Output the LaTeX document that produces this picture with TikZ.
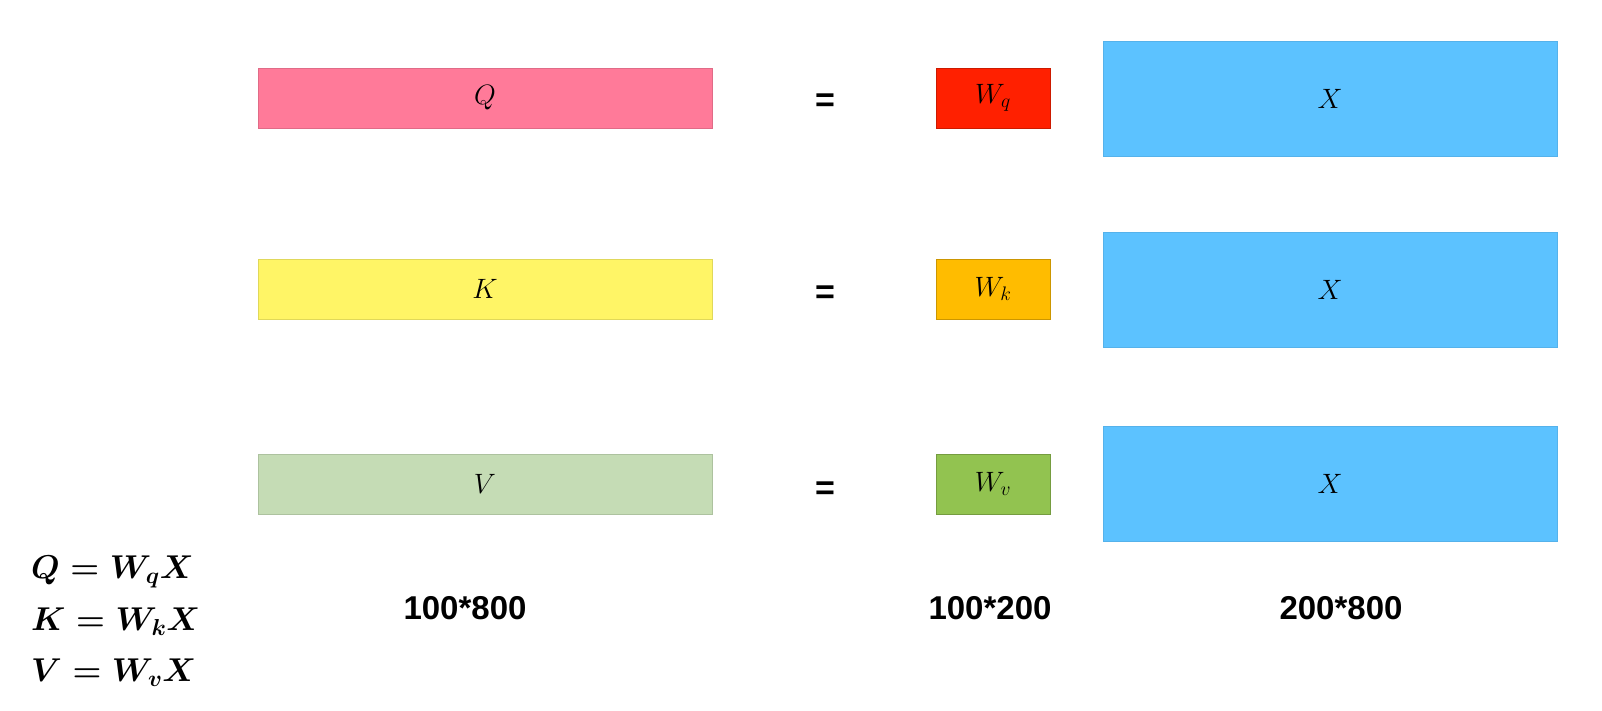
\RequirePackage{fix-cm}
\documentclass[tikz,border=0pt]{standalone}
\usepackage{amsmath}
\usepackage{bm}
\usepackage{fontspec}
\setsansfont{Liberation Sans}
\usepackage{tikz}

\definecolor{qpink}{RGB}{255,122,153}
\definecolor{kyellow}{RGB}{255,245,102}
\definecolor{vgreen}{RGB}{197,220,181}
\definecolor{wqred}{RGB}{255,32,0}
\definecolor{wkorange}{RGB}{255,188,0}
\definecolor{wvgreen}{RGB}{146,195,80}
\definecolor{xblue}{RGB}{92,194,255}

\tikzset{
  mat/.style={minimum width=454pt, minimum height=60pt, inner sep=0pt,
    font=\fontsize{28}{32}\selectfont},
  wmat/.style={minimum width=114pt, minimum height=60pt, inner sep=0pt,
    font=\fontsize{28}{32}\selectfont},
  xmat/.style={minimum width=454pt, minimum height=115pt, inner sep=0pt,
    fill=xblue, draw=xblue!92!black, line width=0.6pt,
    font=\fontsize{28}{32}\selectfont},
  dimlabel/.style={font=\sffamily\bfseries\fontsize{33}{36}\selectfont},
  eqsign/.style={font=\sffamily\bfseries\fontsize{34}{36}\selectfont},
  formula/.style={anchor=west, inner sep=0pt,
    font=\fontsize{33}{38}\selectfont\boldmath}
}

\begin{document}
\begin{tikzpicture}[x=1pt, y=-1pt]
    \useasboundingbox (0,0) rectangle (1602,711);

    \foreach \n/\y/\c/\wc/\s/\xy/\ey in {q/98/qpink/wqred/Q/98.5/103, k/289/kyellow/wkorange/K/289.5/295, v/484/vgreen/wvgreen/V/484/491} {
      \node[mat, fill=\c, draw=\c!88!black, line width=0.6pt] (\n) at (485,\y) {$\s$};
      \node[eqsign] (eq\n) at (825,\ey) {=};
      \node[wmat, fill=\wc, draw=\wc!80!black, line width=0.8pt] (w\n) at (993,\y) {$W_\n$};
      \node[xmat] (x\n) at (1330,\xy) {$X$};
    }

    \node[dimlabel] (dimq) at (465,608) {100*800};
    \node[dimlabel] (dimw) at (990,608) {100*200};
    \node[dimlabel] (dimx) at (1341,608) {200*800};

    \node[formula] (fq) at (31,572) {$\bm{Q = W_{q}X}$};
    \node[formula] (fk) at (31,622) {$\bm{K = W_{k}X}$};
    \node[formula] (fv) at (31,673) {$\bm{V = W_{v}X}$};
  \end{tikzpicture}
\end{document}
